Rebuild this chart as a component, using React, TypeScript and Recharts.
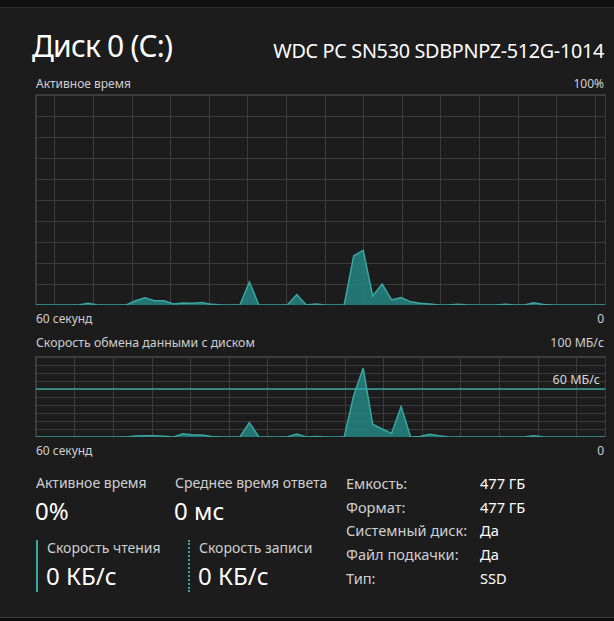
import { AreaChart, Area, XAxis, YAxis, CartesianGrid, ReferenceLine } from 'recharts';

// seconds, one sample per second, from -1 (just off the left edge) to 60
const seconds = Array.from({ length: 62 }, (_, i) => i);

// Активное время, %
const activeTime = [
  0,
  0, 0, 0, 0, 0,
  0.8, 0, 0, 0,
  0, 2, 3.4, 2, 2, 0.5, 1, 0.8, 1.2, 0.3,
  0, 0, 0, 11, 0, 0, 0, 0, 5, 0, 0.5,
  0, 0, 0, 23.5, 26, 4.3, 10, 2.4, 3.5, 1.5, 0.8, 0.5,
  0, 0, 0.4, 0, 0, 0, 0, 0.4, 0, 0, 1.1, 0.2,
  0, 0, 0, 0, 0, 0, 0,
];

// Скорость обмена данными, МБ/с
const transferRate = [
  0,
  0, 0, 0, 0, 0, 0, 0, 0, 0, 0,
  1.2, 1.5, 1.5, 1, 0, 4, 2.5, 2.5, 0.5, 0,
  0, 0, 18, 0, 0, 0, 0, 3.7, 0, 0.5,
  0, 0, 0, 52, 86, 16, 10, 4.6, 38, 0, 0.5, 3.5, 1.5, 0,
  0, 0, 0, 0, 0, 0, 0, 0, 1.5, 0, 0, 0, 0, 0, 0, 0, 0,
];

const percentTicks = [0, 10, 20, 30, 40, 50, 60, 70, 80, 90, 100];
const rateLimit = 60;

const diskInfo = [
  { label: 'Емкость:', value: '477 ГБ' },
  { label: 'Формат:', value: '477 ГБ' },
  { label: 'Системный диск:', value: 'Да' },
  { label: 'Файл подкачки:', value: 'Да' },
  { label: 'Тип:', value: 'SSD' },
];

const activeData = seconds.map((s, i) => ({ s, v: activeTime[i] }));
const rateData = seconds.map((s, i) => ({ s, v: transferRate[i] }));

// the grid scrolls with the graph, so its lines are offset from the edges
const gridLines = (start: number) => Array.from({ length: 15 }, (_, k) => start + k * 4.07);

const BG = '#1c1c1c';
const GRID = '#3c3c3c';
const TEAL = '#3aa6a2';
const FILL = '#23807d';
const FONT = '"Noto Sans", "Open Sans", sans-serif';

const Text = ({ x, y, size, color, children, right, spacing }: any) => (
  <div
    style={{
      position: 'absolute',
      left: right ? undefined : x,
      right: right ? 614 - x : undefined,
      top: y - size / 2,
      fontSize: size,
      lineHeight: `${size}px`,
      letterSpacing: spacing,
      color,
      whiteSpace: 'nowrap',
    }}
  >
    {children}
  </div>
);

const Graph = ({ data, height, start, top, withLimit }: any) => (
  <div
    style={{
      position: 'absolute',
      left: 35,
      top,
      width: 569,
      height,
      border: `1px solid ${GRID}`,
      borderBottom: 'none',
    }}
  >
    <AreaChart width={569} height={height} data={data} margin={{ top: 0, right: 0, bottom: 0, left: 0 }}>
      <XAxis dataKey="s" type="number" domain={[0.5, 60.5]} ticks={gridLines(start)} interval={0} allowDataOverflow hide />
      <YAxis type="number" domain={[0, 100]} ticks={percentTicks} interval={0} hide />
      <CartesianGrid stroke={GRID} strokeWidth={1} shapeRendering="crispEdges" />
      {withLimit && (
        <ReferenceLine
          y={rateLimit}
          stroke={TEAL}
          strokeWidth={1.5}
          label={{ value: '60 МБ/с', position: 'insideBottomRight', fill: '#d6d6d6', fontSize: 12.5, fontFamily: FONT, offset: 5 }}
        />
      )}
      <Area
        type="linear"
        dataKey="v"
        stroke={TEAL}
        strokeWidth={1.5}
        fill={FILL}
        fillOpacity={0.9}
        isAnimationActive={false}
      />
    </AreaChart>
  </div>
);

export default function App() {
  return (
    <div
      style={{
        position: 'absolute',
        left: 0,
        top: 0,
        width: 614,
        height: 621,
        background: BG,
        fontFamily: FONT,
        overflow: 'hidden',
      }}
    >
      <div style={{ position: 'absolute', left: 0, top: 0, width: 614, height: 7, background: '#111', borderBottom: '1px solid #2c2c2c' }} />
      <div style={{ position: 'absolute', left: 0, top: 617, width: 614, height: 4, background: '#0d0d0d', borderTop: '1px solid #3a3a3a' }} />

      <Text x={32} y={46} size={30} color="#ffffff" spacing={-0.8}>Диск 0 (C:)</Text>
      <Text x={604} y={51} size={19.8} color="#ffffff" right spacing={-0.3}>WDC PC SN530 SDBPNPZ-512G-1014</Text>

      <Text x={36} y={84} size={12} color="#cfcfcf">Активное время</Text>
      <Text x={604} y={84} size={12} color="#cfcfcf" right>100%</Text>
      <Graph data={activeData} height={210} start={2.5} top={94} />
      <Text x={36} y={319} size={12} color="#cfcfcf">60 секунд</Text>
      <Text x={604} y={319} size={12} color="#cfcfcf" right>0</Text>

      <Text x={36} y={343} size={12.3} color="#cfcfcf">Скорость обмена данными с диском</Text>
      <Text x={604} y={343} size={12.3} color="#cfcfcf" right>100 МБ/с</Text>
      <Graph data={rateData} height={80} start={4.6} top={356} withLimit />
      <Text x={36} y={451} size={12} color="#cfcfcf">60 секунд</Text>
      <Text x={604} y={451} size={12} color="#cfcfcf" right>0</Text>

      <Text x={36} y={483} size={14} color="#cfcfcf">Активное время</Text>
      <Text x={35} y={511} size={24} color="#ffffff">0%</Text>
      <Text x={175} y={483} size={14} color="#cfcfcf">Среднее время ответа</Text>
      <Text x={174} y={511} size={24} color="#ffffff">0 мс</Text>

      <div style={{ position: 'absolute', left: 36, top: 540, width: 2, height: 52, background: TEAL }} />
      <Text x={47} y={548} size={14} color="#cfcfcf">Скорость чтения</Text>
      <Text x={46} y={576} size={24} color="#ffffff">0 КБ/с</Text>
      <div style={{ position: 'absolute', left: 188, top: 540, width: 0, height: 52, borderLeft: `2px dotted ${TEAL}` }} />
      <Text x={199} y={548} size={14} color="#cfcfcf">Скорость записи</Text>
      <Text x={198} y={576} size={24} color="#ffffff">0 КБ/с</Text>

      {diskInfo.map((row, i) => (
        <div key={row.label}>
          <Text x={346} y={483 + i * 23.8} size={14.6} color="#cfcfcf">{row.label}</Text>
          <Text x={480} y={483 + i * 23.8} size={14.6} color="#ffffff">{row.value}</Text>
        </div>
      ))}
    </div>
  );
}
